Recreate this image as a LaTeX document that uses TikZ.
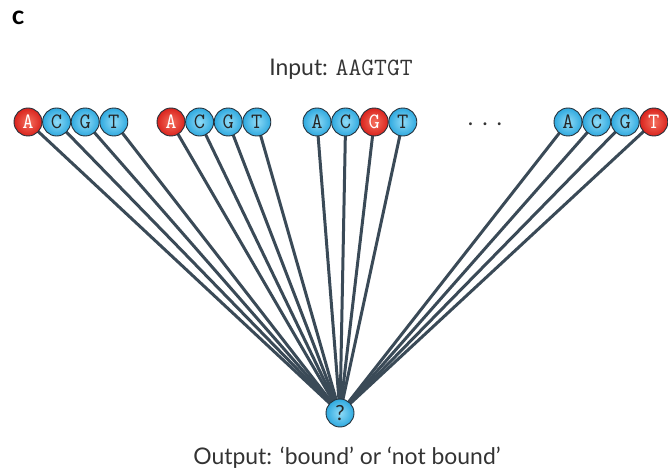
\documentclass[tikz,border=0pt]{standalone}
\usepackage{fontspec}
\setmainfont{Lato}
\usetikzlibrary{backgrounds}

\definecolor{nucblue}{HTML}{2FA9DF}
\definecolor{nucbluelight}{HTML}{8FDBF7}
\definecolor{nucred}{HTML}{D9231D}
\definecolor{nucredlight}{HTML}{F5705E}
\definecolor{wirecol}{HTML}{3A4A57}
\definecolor{rim}{HTML}{26323C}

\tikzset{
  unit/.style={circle, draw=rim, line width=0.9bp, minimum size=28bp, inner sep=0pt,
    font=\ttfamily\fontsize{22}{22}\selectfont},
  blueunit/.style={unit, inner color=nucbluelight, outer color=nucblue, text=black!85},
  redunit/.style={unit, inner color=nucredlight, outer color=nucred, text=white},
  link/.style={wirecol, line width=3bp},
  caption/.style={font=\fontsize{23}{26}\selectfont, text=black!80}
}

\begin{document}
\begin{tikzpicture}[x=1bp, y=-1bp]
	\useasboundingbox (0,0) rectangle (668,476);

	% Panel letter
	\node[font=\bfseries\fontsize{26}{26}\selectfont] (tag) at (18,18) {c};

	% The output unit that decides on binding
	\node[blueunit, font=\rmfamily\fontsize{21}{21}\selectfont] (out) at (340,413) {?};

	% Draw the four groups of input units, one of them marked red in each group
	\foreach \g/\xa/\hot in {1/28/1, 2/171/1, 3/317/3, 4/568/4} {
		\foreach \b [count=\i] in {A,C,G,T} {
			\pgfmathsetmacro{\x}{\xa+28.6*(\i-1)}
			\ifnum\i=\hot \def\kind{redunit}\else \def\kind{blueunit}\fi
			\node[\kind] (n\g\i) at (\x,122) {\b};
		}
	}

	% Connect every input unit to the output unit
	\begin{scope}[on background layer]
		\foreach \g in {1,...,4}
			\foreach \i in {1,...,4}
				\draw[link] (n\g\i.center) -- (out.center);
	\end{scope}

	% Texts
	\node[caption] (dots) at (485,124) {.\hspace{9bp}.\hspace{9bp}.};
	\node[caption] (input) at (341,69) {Input: {\ttfamily\fontsize{25}{25}\selectfont AAGTGT}};
	\node[caption] (output) at (347,458) {Output: ‘bound’ or ‘not bound’};
\end{tikzpicture}
\end{document}
